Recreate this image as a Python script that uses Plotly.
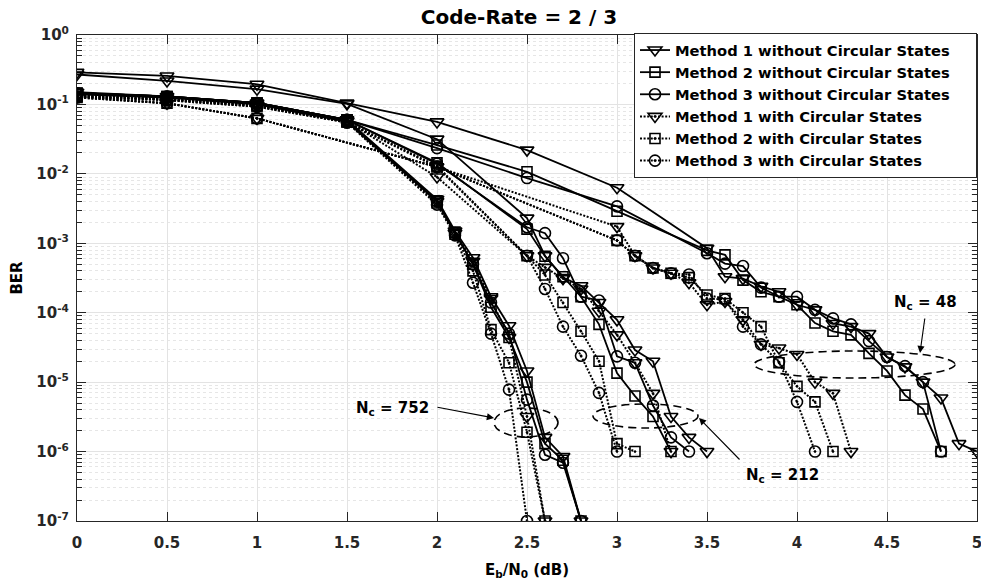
import plotly.graph_objects as go

# ---------------- data ----------------
# Nc = 752
x752_m1_no = [0, 0.5, 1, 1.5, 2, 2.1, 2.2, 2.3, 2.4, 2.5, 2.6, 2.7, 2.8]
y752_m1_no = [0.15, 0.13, 0.105, 0.06, 4.3e-3, 1.5e-3, 6.2e-4, 1.7e-4, 6.5e-5, 1.45e-5, 1.6e-6, 8.5e-7, 1e-7]
x752_m2_no = [0, 0.5, 1, 1.5, 2, 2.1, 2.2, 2.3, 2.4, 2.5, 2.6, 2.7, 2.8]
y752_m2_no = [0.145, 0.128, 0.104, 0.058, 4.1e-3, 1.45e-3, 5e-4, 1.2e-4, 4.4e-5, 1.0e-5, 1.3e-6, 7.5e-7, 1e-7]
x752_m3_no = [0, 0.5, 1, 1.5, 2, 2.1, 2.2, 2.3, 2.4, 2.5, 2.6, 2.7, 2.8]
y752_m3_no = [0.14, 0.125, 0.1, 0.056, 4.0e-3, 1.4e-3, 5e-4, 1.4e-4, 5e-5, 5.6e-6, 9e-7, 6.9e-7, 1e-7]
x752_m1_cs = [0, 0.5, 1, 1.5, 2, 2.1, 2.2, 2.3, 2.4, 2.5, 2.6]
y752_m1_cs = [0.135, 0.12, 0.098, 0.057, 4.0e-3, 1.4e-3, 5.5e-4, 1.6e-4, 4.4e-5, 3.2e-6, 1e-7]
x752_m2_cs = [0, 0.5, 1, 1.5, 2, 2.1, 2.2, 2.3, 2.4, 2.5, 2.6]
y752_m2_cs = [0.13, 0.118, 0.095, 0.056, 3.8e-3, 1.35e-3, 4e-4, 5.7e-5, 1.9e-5, 1.9e-6, 1e-7]
x752_m3_cs = [0, 0.5, 1, 1.5, 2, 2.1, 2.2, 2.3, 2.4, 2.5]
y752_m3_cs = [0.13, 0.115, 0.093, 0.055, 3.6e-3, 1.3e-3, 2.7e-4, 5e-5, 7.8e-6, 1e-7]

# Nc = 212
x212_m1_no = [0, 0.5, 1, 1.5, 2, 2.5, 2.6, 2.7, 2.8, 2.9, 3.0, 3.1, 3.2, 3.3, 3.4, 3.5]
y212_m1_no = [0.27, 0.218, 0.166, 0.102, 0.0316, 2.3e-3, 6.6e-4, 3.2e-4, 2.45e-4, 1.4e-4, 7.9e-5, 2.9e-5, 2.0e-5, 3.2e-6, 1.6e-6, 1e-6]
x212_m2_no = [0, 0.5, 1, 1.5, 2, 2.5, 2.6, 2.7, 2.8, 2.9, 3.0, 3.1, 3.2, 3.3]
y212_m2_no = [0.145, 0.13, 0.105, 0.06, 0.0144, 1.6e-3, 6.5e-4, 3.3e-4, 1.7e-4, 6.8e-5, 1.35e-5, 6.3e-6, 3.2e-6, 1e-6]
x212_m3_no = [0, 0.5, 1, 1.5, 2, 2.5, 2.6, 2.7, 2.8, 2.9, 3.0, 3.1, 3.2, 3.3, 3.4]
y212_m3_no = [0.145, 0.13, 0.105, 0.06, 0.014, 1.7e-3, 1.4e-3, 6.1e-4, 1.7e-4, 1.5e-4, 2.35e-5, 1.9e-5, 4.6e-6, 1.6e-6, 1e-6]
x212_m1_cs = [0, 0.5, 1, 1.5, 2, 2.5, 2.6, 2.7, 2.8, 2.9, 3.0, 3.1, 3.2, 3.3]
y212_m1_cs = [0.135, 0.12, 0.098, 0.057, 9e-3, 6.6e-4, 4.5e-4, 3.1e-4, 2.2e-4, 1.05e-4, 4.8e-5, 1.9e-5, 6.9e-6, 1e-6]
x212_m2_cs = [0, 0.5, 1, 1.5, 2, 2.5, 2.6, 2.7, 2.8, 2.9, 3.0, 3.1]
y212_m2_cs = [0.13, 0.118, 0.095, 0.056, 0.013, 6.6e-4, 3.5e-4, 1.4e-4, 5.4e-5, 2.0e-5, 1.3e-6, 1e-6]
x212_m3_cs = [0, 0.5, 1, 1.5, 2, 2.5, 2.6, 2.7, 2.8, 2.9, 3.0]
y212_m3_cs = [0.13, 0.115, 0.093, 0.055, 0.0125, 6.6e-4, 2.2e-4, 6.3e-5, 2.4e-5, 7e-6, 1e-6]

# Nc = 48
x48_m1_no = [0, 0.5, 1, 1.5, 2, 2.5, 3, 3.5, 3.6, 3.7, 3.8, 3.9, 4.0, 4.1, 4.2, 4.3, 4.4, 4.5, 4.6, 4.7, 4.8, 4.9, 5.0]
y48_m1_no = [0.29, 0.257, 0.195, 0.105, 0.056, 0.022, 6.3e-3, 8.5e-4, 3.3e-4, 3.1e-4, 2.4e-4, 2.0e-4, 1.3e-4, 1.1e-4,
             7.0e-5, 6.3e-5, 5.0e-5, 2.3e-5, 1.66e-5, 1.0e-5, 5.9e-6, 1.3e-6, 1e-6]
x48_m2_no = [0, 0.5, 1, 1.5, 2, 2.5, 3, 3.5, 3.6, 3.7, 3.8, 3.9, 4.0, 4.1, 4.2, 4.3, 4.4, 4.5, 4.6, 4.7, 4.8]
y48_m2_no = [0.145, 0.13, 0.105, 0.06, 0.026, 0.0107, 2.9e-3, 7.9e-4, 6.8e-4, 2.95e-4, 2.0e-4, 1.7e-4, 1.3e-4, 7.1e-5,
             5.4e-5, 4.8e-5, 2.6e-5, 1.45e-5, 6.5e-6, 4.1e-6, 1e-6]
x48_m3_no = [0, 0.5, 1, 1.5, 2, 2.5, 3, 3.5, 3.6, 3.7, 3.8, 3.9, 4.0, 4.1, 4.2, 4.3, 4.4, 4.5, 4.6, 4.7, 4.8]
y48_m3_no = [0.145, 0.13, 0.105, 0.06, 0.0235, 8.7e-3, 3.4e-3, 7.2e-4, 5.1e-4, 4.7e-4, 2.3e-4, 1.7e-4, 1.7e-4, 1.1e-4,
             8.3e-5, 6.8e-5, 3.9e-5, 2.3e-5, 1.7e-5, 1.0e-5, 1e-6]
x48_m1_cs = [0, 0.5, 1, 2, 3.0, 3.1, 3.2, 3.3, 3.4, 3.5, 3.6, 3.7, 3.8, 3.9, 4.0, 4.1, 4.2, 4.3]
y48_m1_cs = [0.128, 0.104, 0.063, 0.0126, 1.74e-3, 6.6e-4, 4.4e-4, 3.7e-4, 2.7e-4, 1.3e-4, 1.45e-4, 7.9e-5, 3.5e-5,
             3.1e-5, 2.5e-5, 1.0e-5, 6.9e-6, 1e-6]
x48_m2_cs = [0, 0.5, 1, 2, 3.0, 3.1, 3.2, 3.3, 3.4, 3.5, 3.6, 3.7, 3.8, 3.9, 4.0, 4.1, 4.2]
y48_m2_cs = [0.126, 0.104, 0.063, 0.0126, 1.1e-3, 6.6e-4, 4.4e-4, 3.7e-4, 3.2e-4, 1.8e-4, 1.6e-4, 1.0e-4, 6.3e-5,
             1.9e-5, 8.7e-6, 5.2e-6, 1e-6]
x48_m3_cs = [0, 0.5, 1, 2, 3.0, 3.1, 3.2, 3.3, 3.4, 3.5, 3.6, 3.7, 3.8, 3.9, 4.0, 4.1]
y48_m3_cs = [0.126, 0.104, 0.063, 0.0126, 1.1e-3, 6.6e-4, 4.4e-4, 3.7e-4, 3.55e-4, 1.6e-4, 1.55e-4, 6.3e-5, 3.5e-5,
             1.95e-5, 5.2e-6, 1e-6]

legend_names = [
    "Method 1 without Circular States",
    "Method 2 without Circular States",
    "Method 3 without Circular States",
    "Method 1 with Circular States",
    "Method 2 with Circular States",
    "Method 3 with Circular States",
]
y_tick_vals = [1e0, 1e-1, 1e-2, 1e-3, 1e-4, 1e-5, 1e-6, 1e-7]
y_tick_text = ["10<sup>0</sup>", "10<sup>-1</sup>", "10<sup>-2</sup>", "10<sup>-3</sup>",
               "10<sup>-4</sup>", "10<sup>-5</sup>", "10<sup>-6</sup>", "10<sup>-7</sup>"]
x_tick_vals = [0, 0.5, 1, 1.5, 2, 2.5, 3, 3.5, 4, 4.5, 5]
x_tick_text = ["0", "0.5", "1", "1.5", "2", "2.5", "3", "3.5", "4", "4.5", "5"]

# ---------------- styling ----------------
FONT = "DejaVu Sans"
INK = "#000000"
DOT = "2px,1.6px"
styles = [
    dict(symbol="triangle-down-open", dash="solid", size=12),
    dict(symbol="square-open", dash="solid", size=10),
    dict(symbol="circle-open", dash="solid", size=11),
    dict(symbol="triangle-down-open-dot", dash=DOT, size=12),
    dict(symbol="square-open-dot", dash=DOT, size=10),
    dict(symbol="circle-open-dot", dash=DOT, size=11),
]

groups = [
    [(x48_m1_no, y48_m1_no), (x48_m2_no, y48_m2_no), (x48_m3_no, y48_m3_no),
     (x48_m1_cs, y48_m1_cs), (x48_m2_cs, y48_m2_cs), (x48_m3_cs, y48_m3_cs)],
    [(x212_m1_no, y212_m1_no), (x212_m2_no, y212_m2_no), (x212_m3_no, y212_m3_no),
     (x212_m1_cs, y212_m1_cs), (x212_m2_cs, y212_m2_cs), (x212_m3_cs, y212_m3_cs)],
    [(x752_m1_no, y752_m1_no), (x752_m2_no, y752_m2_no), (x752_m3_no, y752_m3_no),
     (x752_m1_cs, y752_m1_cs), (x752_m2_cs, y752_m2_cs), (x752_m3_cs, y752_m3_cs)],
]

PAD = "\u00a0" * 4  # right padding inside the legend box
fig = go.Figure()
for gi, grp in enumerate(groups):
    for si, (xs, ys) in enumerate(grp):
        st = styles[si]
        fig.add_trace(go.Scatter(
            x=xs, y=ys, mode="lines+markers",
            name=legend_names[si] + PAD, legendgroup=str(si), legendrank=si + 1,
            showlegend=(gi == 0),
            line=dict(color=INK, width=2 if si >= 3 else 1.8, dash=st["dash"]),
            marker=dict(symbol=st["symbol"], size=st["size"], color=INK,
                        line=dict(color=INK, width=1.6)),
        ))

# ---------------- layout helpers (pixel -> paper) ----------------
L, R, T, B = 77, 4, 35, 62
W, H = 981, 583
PW, PH = W - L - R, H - T - B


def px(xp):
    return (xp - L) / PW


def py(yp):
    return (T + PH - yp) / PH


shapes = []
for (x0, x1, y0, y1) in [(494, 558, 408, 437), (593, 698, 404, 428), (754, 955, 351, 378)]:
    shapes.append(dict(type="circle", xref="paper", yref="paper",
                       x0=px(x0), x1=px(x1), y0=py(y1), y1=py(y0),
                       line=dict(color=INK, width=1.6, dash="8px,5px")))

annotations = []
# arrows (head, tail) in pixels
for (hx, hy, tx, ty) in [(494, 418, 436, 407), (699, 418, 741, 461), (920, 353, 925, 317)]:
    annotations.append(dict(xref="paper", yref="paper", x=px(hx), y=py(hy),
                            ax=tx - hx, ay=ty - hy, text="", showarrow=True,
                            arrowhead=2, arrowsize=1.3, arrowwidth=1.1, arrowcolor=INK))
for (txt, xp, yp, anchor) in [("N<sub>c</sub> = 752", 431, 408, "right"),
                               ("N<sub>c</sub> = 212", 744, 475, "left"),
                               ("N<sub>c</sub> = 48", 892, 303, "left")]:
    annotations.append(dict(xref="paper", yref="paper", x=px(xp), y=py(yp), text=txt,
                            showarrow=False, xanchor=anchor, yanchor="middle",
                            font=dict(family=FONT, size=15, color=INK, weight="bold")))

minor_vals = [k * 10.0 ** e for e in range(-7, 0) for k in range(2, 10)]

fig.update_layout(
    width=W, height=H,
    margin=dict(l=L, r=R, t=T, b=B, autoexpand=False),
    paper_bgcolor="white", plot_bgcolor="white",
    font=dict(family=FONT, size=15, color="#262626", weight="bold"),
    title=dict(text="Code-Rate = 2 / 3", x=px(519), xref="paper", xanchor="center",
               y=1 - 17 / H, yref="container", yanchor="middle",
               font=dict(family=FONT, size=20, color=INK, weight="bold")),
    showlegend=True,
    legend=dict(x=1, y=1 + 2 / PH, xanchor="right", yanchor="top", xref="paper", yref="paper",
                bgcolor="white", bordercolor="#262626", borderwidth=1,
                font=dict(family=FONT, size=14.7, color=INK, weight="bold"),
                itemwidth=30, traceorder="normal"),
    shapes=shapes,
    annotations=annotations,
)

fig.update_xaxes(
    range=[0, 5], tickmode="array", tickvals=x_tick_vals, ticktext=x_tick_text,
    ticks="inside", ticklen=9, tickwidth=1, tickcolor="#262626",
    showline=True, linecolor="#262626", linewidth=1.2, mirror="ticks",
    showgrid=True, gridcolor="#e3e3e3", gridwidth=1, zeroline=False,
    automargin=False, ticklabelstandoff=8, ticklabeloverflow="allow",
    tickfont=dict(family=FONT, size=15, color="#262626", weight="bold"),
    title=dict(text="E<sub>b</sub>/N<sub>0</sub> (dB)", standoff=13,
               font=dict(family=FONT, size=15, color=INK, weight="bold")),
)
fig.update_yaxes(
    type="log", range=[-7, 0], tickmode="array", tickvals=y_tick_vals, ticktext=y_tick_text,
    ticks="inside", ticklen=9, tickwidth=1, tickcolor="#262626",
    showline=True, linecolor="#262626", linewidth=1.2, mirror="ticks",
    showgrid=True, gridcolor="#e3e3e3", gridwidth=1, zeroline=False,
    automargin=False, ticklabelstandoff=4,
    tickfont=dict(family=FONT, size=15, color="#262626", weight="bold"),
    minor=dict(tickmode="array", tickvals=minor_vals, ticks="inside", ticklen=5,
               tickcolor="#262626", showgrid=True, gridcolor="#e6e6e6", griddash="dot", gridwidth=1),
    title=dict(text="BER", standoff=10,
               font=dict(family=FONT, size=15, color=INK, weight="bold")),
)

fig.write_html("out.html", config={"displayModeBar": False},
               post_script="document.body.style.margin='0px';document.body.style.overflow='hidden';")
